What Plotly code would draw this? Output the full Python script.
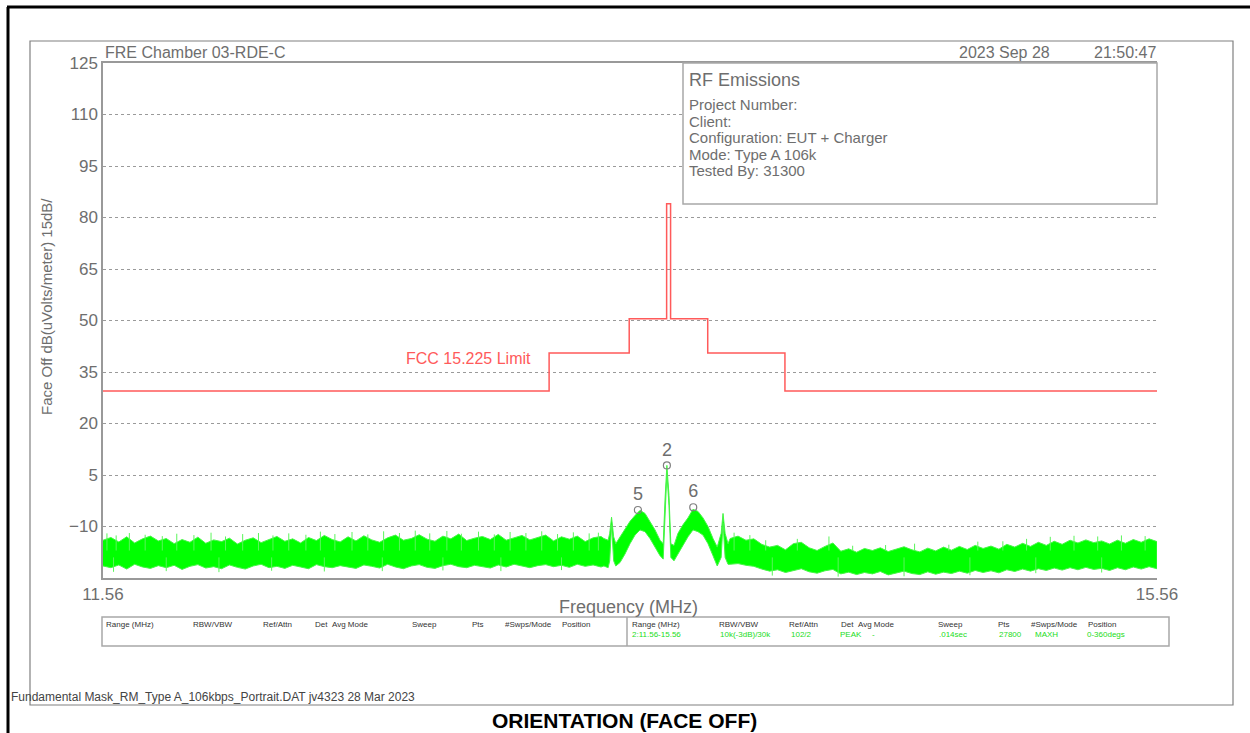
import plotly.graph_objects as go

# ---------------- data ----------------
left_f = [11.56, 11.59, 11.62, 11.65, 11.68, 11.71, 11.74, 11.77, 11.80, 11.83, 11.86, 11.89, 11.92, 11.95, 11.98, 12.01,
          12.04, 12.07, 12.10, 12.13, 12.16, 12.19, 12.22, 12.25, 12.28, 12.31, 12.34, 12.37, 12.40, 12.43, 12.46, 12.49,
          12.52, 12.55, 12.58, 12.61, 12.64, 12.67, 12.70, 12.73, 12.76, 12.79, 12.82, 12.85, 12.88, 12.91, 12.94, 12.97,
          13.00, 13.03, 13.06, 13.09, 13.12, 13.15, 13.18, 13.21, 13.24, 13.27, 13.30, 13.33, 13.36, 13.39, 13.42, 13.45]
left_hi = [-14.0, -13.2, -14.5, -13.0, -14.8, -13.6, -12.8, -14.2,
           -13.5, -15.0, -13.8, -14.6, -13.1, -14.9, -13.9, -14.4,
           -13.4, -15.1, -14.0, -13.3, -14.7, -13.7, -12.9, -14.3,
           -13.6, -14.8, -13.2, -14.1, -12.6, -13.8, -14.5, -13.0,
           -14.2, -12.7, -13.9, -14.6, -13.3, -12.5, -14.0, -13.5,
           -12.4, -13.7, -14.3, -12.8, -13.6, -12.2, -14.1, -13.4,
           -12.9, -13.8, -12.3, -14.0, -13.2, -12.6, -13.9, -13.1,
           -12.5, -14.2, -13.0, -13.7, -12.8, -14.4, -13.3, -12.9]
left_lo = [-21.5, -22.0, -21.2, -22.4, -21.0, -21.8, -22.2, -21.4,
           -22.0, -21.3, -22.5, -21.6, -21.1, -22.1, -21.7, -22.3,
           -21.2, -21.9, -22.4, -21.5, -21.0, -22.0, -21.6, -22.2,
           -21.3, -21.8, -22.3, -21.1, -21.7, -22.0, -21.4, -21.9,
           -22.2, -21.2, -21.6, -22.1, -21.0, -21.8, -22.3, -21.5,
           -21.1, -21.9, -22.2, -21.4, -21.0, -21.7, -22.0, -21.3,
           -21.6, -22.1, -21.2, -21.8, -21.0, -21.5, -22.0, -21.4,
           -21.1, -21.7, -21.3, -21.9, -21.0, -21.6, -21.2, -21.8]

center_f = [13.461, 13.477, 13.483, 13.490, 13.498, 13.506, 13.522, 13.541, 13.560, 13.579, 13.598, 13.617,
            13.636, 13.655, 13.674, 13.686, 13.693, 13.700, 13.708, 13.715, 13.727, 13.742, 13.761, 13.780,
            13.799, 13.818, 13.837, 13.856, 13.875, 13.891, 13.906, 13.913, 13.921, 13.932]
center_hi = [-13.5, -14.0, -12.0, -7.3, -13.0, -15.0, -13.0, -10.5, -8.5, -6.8, -5.3, -6.2,
             -8.5, -11.0, -14.0, -15.0, -2.0, 7.8, -1.0, -15.0, -15.5, -12.0, -9.5, -7.5,
             -5.0, -5.6, -7.5, -10.0, -13.5, -16.0, -12.0, -6.2, -12.0, -15.0]
center_lo = [-21.5, -22.0, -20.0, -9.5, -20.0, -21.5, -20.5, -18.0, -15.0, -12.5, -11.0, -11.5,
             -13.5, -16.0, -18.5, -19.5, -5.0, 5.5, -4.0, -19.0, -20.0, -18.0, -15.5, -13.0,
             -11.0, -11.5, -12.5, -15.0, -18.5, -21.5, -19.0, -9.0, -19.0, -21.0]

right_f = [13.94, 13.97, 14.00, 14.03, 14.06, 14.09, 14.12, 14.15, 14.18, 14.21, 14.24, 14.27, 14.30, 14.33,
           14.36, 14.39, 14.42, 14.45, 14.48, 14.51, 14.54, 14.57, 14.60, 14.63, 14.66, 14.69, 14.72, 14.75,
           14.78, 14.81, 14.84, 14.87, 14.90, 14.93, 14.96, 14.99, 15.02, 15.05, 15.08, 15.11, 15.14, 15.17,
           15.20, 15.23, 15.26, 15.29, 15.32, 15.35, 15.38, 15.41, 15.44, 15.47, 15.50, 15.53, 15.56]
right_hi = [-13.5, -12.8, -14.0, -13.6, -15.2, -16.0, -15.5, -16.8,
            -15.0, -14.6, -16.2, -17.0, -15.8, -14.8, -17.2, -16.5,
            -17.5, -16.4, -17.0, -16.2, -17.3, -16.6, -15.9, -16.8,
            -17.4, -16.3, -17.1, -16.0, -16.9, -15.8, -16.7, -15.5,
            -16.4, -15.7, -16.6, -15.2, -16.0, -14.9, -15.8, -14.6,
            -15.5, -14.3, -15.2, -14.0, -14.8, -13.9, -14.7, -14.2,
            -15.1, -14.0, -14.9, -13.8, -14.6, -13.6, -14.4]
right_lo = [-21.0, -20.8, -21.3, -21.6, -22.4, -23.0, -22.6, -23.4,
            -22.8, -22.3, -23.2, -23.6, -22.9, -22.5, -23.8, -23.3,
            -24.0, -23.4, -23.8, -23.1, -24.1, -23.5, -23.0, -23.7,
            -24.0, -23.2, -23.9, -23.3, -23.7, -23.0, -23.6, -22.8,
            -23.4, -22.9, -23.5, -22.6, -23.1, -22.4, -23.0, -22.3,
            -22.8, -22.1, -22.7, -22.0, -22.6, -21.9, -22.5, -22.2,
            -22.8, -22.0, -22.6, -21.8, -22.4, -21.7, -22.3]

# isolated noise spikes above the band and dips below it
spike_f = [11.575, 11.61, 11.66, 11.72, 11.785, 11.84, 11.905, 11.97, 12.025, 12.09, 12.15, 12.205, 12.265,
           12.33, 12.385, 12.44, 12.505, 12.565, 12.625, 12.685, 12.745, 12.80, 12.865, 12.92, 12.985, 13.045,
           13.105, 13.165, 13.225, 13.285, 13.345, 13.405, 13.44,
           13.955, 14.015, 14.075, 14.195, 14.315, 14.405, 14.53, 14.64, 14.77, 14.88, 14.975, 15.065, 15.155,
           15.245, 15.335, 15.425, 15.515]
spike_db = [-12.0, -12.6, -11.9, -12.4, -12.8, -12.1, -12.5, -11.8, -12.9, -12.2, -11.9, -12.6, -12.0,
            -12.4, -11.5, -12.2, -11.6, -12.3, -11.4, -11.9, -11.2, -12.0, -11.3, -12.1, -11.5, -12.3,
            -11.6, -11.9, -11.4, -12.2, -11.7, -12.0, -11.8,
            -11.8, -12.5, -14.0, -13.6, -12.9, -15.6, -15.4, -15.0, -15.3, -14.4, -14.3, -13.6, -13.0,
            -12.7, -12.9, -12.6, -12.8]
dip_f = [11.60, 11.80, 12.00, 12.20, 12.40, 12.62, 12.85, 13.07, 13.30, 14.10, 14.35, 14.60, 14.85, 15.10, 15.35]
dip_db = [-23.2, -23.0, -23.3, -22.9, -23.1, -23.0, -22.8, -23.0, -22.7, -24.3, -24.6, -24.5, -24.2, -23.6, -23.4]

limit_f = [11.56, 13.253, 13.557, 13.699, 13.714, 13.855, 14.148, 15.56]
limit_db = [29.5, 40.5, 50.5, 84.0, 50.5, 40.5, 29.5, 29.5]

marker_f = [13.590, 13.700, 13.800]
marker_db = [-5.2, 7.8, -4.4]
marker_lbl = ["5", "2", "6"]

y_ticks = [125, 110, 95, 80, 65, 50, 35, 20, 5, -10]
x_ticks = [11.56, 15.56]
x_ticklabels = ["11.56", "15.56"]

# ---------------- layout helpers ----------------
W, H = 1250, 733
FONT = "Liberation Sans"
GRAY = "#6e6e6e"


def px(x):
    return x / W


def py(y):
    return 1 - y / H


freq = left_f + center_f + right_f
upper = left_hi + center_hi + right_hi
lower = left_lo + center_lo + right_lo

fig = go.Figure()

# green measured trace (envelope band)
fig.add_trace(go.Scatter(
    x=freq + freq[::-1], y=upper + lower[::-1],
    fill="toself", fillcolor="rgb(0,255,0)", mode="lines",
    line=dict(color="rgb(70,245,70)", width=1), hoverinfo="skip", showlegend=False))

# spikes / dips as thin vertical strokes
sx, sy = [], []
for f, v in zip(spike_f, spike_db):
    sx += [f, f, None]
    sy += [-17.0, v, None]
for f, v in zip(dip_f, dip_db):
    sx += [f, f, None]
    sy += [-19.0, v, None]
fig.add_trace(go.Scatter(x=sx, y=sy, mode="lines", line=dict(color="rgb(90,245,90)", width=1),
                         hoverinfo="skip", showlegend=False))

# red limit line
fig.add_trace(go.Scatter(
    x=limit_f, y=limit_db, mode="lines", line_shape="hv",
    line=dict(color="#ff5a5a", width=1.5), showlegend=False))

# markers
fig.add_trace(go.Scatter(
    x=marker_f, y=marker_db, mode="markers+text", text=marker_lbl,
    textposition="top center", textfont=dict(size=18, color=GRAY, family=FONT),
    marker=dict(symbol="circle-open", size=7, color="#808080", line=dict(width=1.2)),
    showlegend=False))

annotations = []


def ann(text, x, y, size, color=GRAY, xanchor="left", yanchor="middle", **kw):
    fam = kw.pop("family", FONT)
    annotations.append(dict(text=text, x=px(x), y=py(y), xref="paper", yref="paper",
                            showarrow=False, xanchor=xanchor, yanchor=yanchor,
                            font=dict(size=size, color=color, family=fam), **kw))


# header
ann("FRE Chamber 03-RDE-C", 103, 53, 16)
ann("2023 Sep 28", 1052, 53, 16, xanchor="right")
ann("21:50:47", 1158, 53, 16, xanchor="right")

# info box text
ann("RF Emissions", 687, 80, 18)
info_lines = ["Project Number:", "Client:", "Configuration: EUT + Charger", "Mode: Type A 106k", "Tested By: 31300"]
for i, t in enumerate(info_lines):
    ann(t, 687, 105 + i * 16.4, 15)

# limit label
ann("FCC 15.225 Limit", 533, 358, 16, color="#ff5a5a", xanchor="right")

# axis titles
ann("Face Off dB(uVolts/meter) 15dB/", 47, 307, 15, textangle=-90, xanchor="center")
ann("Frequency (MHz)", 628, 607, 18, xanchor="center")

# table texts
TC = "#333333"
GC = "#22dd22"
hdr = [("Range (MHz)", 0), ("RBW/VBW", 87), ("Ref/Attn", 157), ("Det", 209), ("Avg Mode", 226),
       ("Sweep", 306), ("Pts", 366), ("#Swps/Mode", 399), ("Position", 456)]
for base in (104, 630):
    for t, off in hdr:
        ann(t, base + off, 624, 8, color=TC)
vals = [("2:11.56-15.56", 0), ("10k(-3dB)/30k", 88), ("102/2", 159), ("PEAK", 208), ("-", 240),
        (".014sec", 307), ("27800", 367), ("MAXH", 403), ("0-360degs", 455)]
for t, off in vals:
    ann(t, 630 + off, 634, 8, color=GC)

# footer
ann("Fundamental Mask_RM_Type A_106kbps_Portrait.DAT jv4323 28 Mar 2023", 9, 697, 12, color="#444444")
ann("<b>ORIENTATION (FACE OFF)</b>", 624, 720, 21, color="#000000", xanchor="center", family="Arial")

shapes = []


def line(x0, y0, x1, y1, color, width):
    shapes.append(dict(type="line", xref="paper", yref="paper", x0=px(x0), y0=py(y0), x1=px(x1), y1=py(y1),
                       line=dict(color=color, width=width), layer="above"))


# outer black border
line(7, 7, 1250, 7, "#000000", 3)
line(8, 7, 8, 733, "#000000", 3)
# gray page frame
shapes.append(dict(type="rect", xref="paper", yref="paper", x0=px(30), y0=py(705), x1=px(1233), y1=py(41),
                   line=dict(color="#808080", width=1.2), layer="below"))
# info box (covers grid lines)
shapes.append(dict(type="rect", xref="paper", yref="paper", x0=px(683), y0=py(204), x1=px(1157), y1=py(63),
                   line=dict(color="#a8a8a8", width=1.5), fillcolor="white", layer="above"))
# table box
shapes.append(dict(type="rect", xref="paper", yref="paper", x0=px(102), y0=py(646), x1=px(1169), y1=py(617),
                   line=dict(color="#a8a8a8", width=1.5), layer="above"))
line(627, 617, 627, 646, "#a8a8a8", 1.5)

fig.update_layout(
    width=W, height=H, autosize=False,
    margin=dict(l=0, r=0, t=0, b=0),
    paper_bgcolor="white", plot_bgcolor="white",
    showlegend=False,
    annotations=annotations, shapes=shapes,
    xaxis=dict(domain=[px(103), px(1157)], range=[11.56, 15.56], tickvals=x_ticks, ticktext=x_ticklabels,
               showgrid=False, zeroline=False, showline=True, mirror=True, linecolor="#999999", linewidth=1.5,
               ticks="", tickfont=dict(size=17, color=GRAY, family=FONT), automargin=False),
    yaxis=dict(domain=[py(578), py(63)], range=[-25, 125], tickvals=y_ticks,
               showgrid=True, gridcolor="#9a9a9a", griddash="dot", gridwidth=1, zeroline=False,
               showline=True, linecolor="#999999", linewidth=1.5, ticks="",
               tickfont=dict(size=17, color=GRAY, family=FONT), automargin=False),
)

fig.write_html("out.html")
